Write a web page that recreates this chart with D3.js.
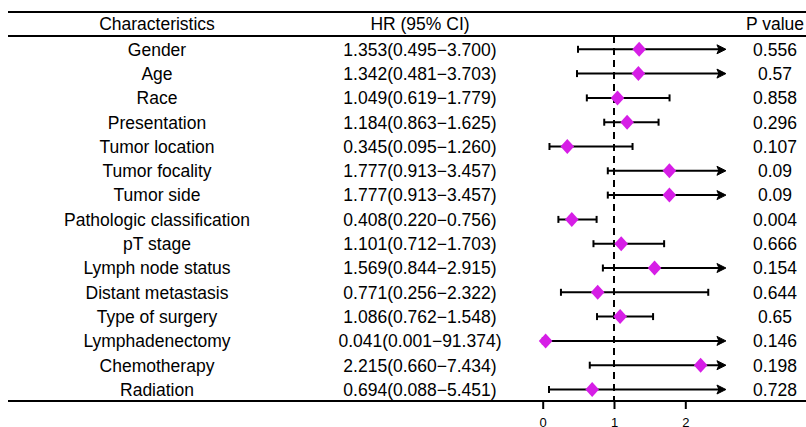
<!DOCTYPE html>
<html lang="en">
<head>
	<meta charset="UTF-8">
	<title>Forest plot</title>
	<script type="text/javascript" src="https://cdn.jsdelivr.net/npm/d3@7"></script>
</head>
<style>
	body { margin: 0; background: #fff; }
	text { font-family: "Liberation Sans", Arial, sans-serif; fill: #000; }
</style>
<body>
	<script type="text/javascript">
		var width = 806;
		var height = 427;

		// data
		var characteristics = ["Gender", "Age", "Race", "Presentation", "Tumor location", "Tumor focality",
			"Tumor side", "Pathologic classification", "pT stage", "Lymph node status", "Distant metastasis",
			"Type of surgery", "Lymphadenectomy", "Chemotherapy", "Radiation"];
		var hr    = [1.353, 1.342, 1.049, 1.184, 0.345, 1.777, 1.777, 0.408, 1.101, 1.569, 0.771, 1.086, 0.041, 2.215, 0.694];
		var lower = [0.495, 0.481, 0.619, 0.863, 0.095, 0.913, 0.913, 0.220, 0.712, 0.844, 0.256, 0.762, 0.001, 0.660, 0.088];
		var upper = [3.700, 3.703, 1.779, 1.625, 1.260, 3.457, 3.457, 0.756, 1.703, 2.915, 2.322, 1.548, 91.374, 7.434, 5.451];
		var pvalues = ["0.556", "0.57", "0.858", "0.296", "0.107", "0.09", "0.09", "0.004", "0.666", "0.154",
			"0.644", "0.65", "0.146", "0.198", "0.728"];
		var xTicks = [0, 1, 2];
		var clipMax = 2.57;

		var rows = characteristics.map(function(c, i){
			return {name: c, hr: hr[i], lo: lower[i], hi: upper[i], p: pvalues[i]};
		});

		var svg = d3.select('body')
					.append('svg')
					.attr('width', width)
					.attr('height', height);

		var x = d3.scaleLinear().domain([0, 2]).range([542.7, 685.3]);
		var y = d3.scaleLinear().domain([0, rows.length - 1]).range([49.3, 389.5]);

		var topY = 12, headY = 36, botY = 401;
		var colName = 157, colHR = 420, colP = 775;
		var fs = 17.5;

		// table rules
		[topY, headY, botY].forEach(function(ly){
			svg.append('line')
			   .attr('x1', 8).attr('x2', width)
			   .attr('y1', ly).attr('y2', ly)
			   .attr('stroke', '#000').attr('stroke-width', 2);
		});

		// header
		var header = [["Characteristics", colName], ["HR (95% CI)", colHR], ["P value", colP]];
		svg.selectAll('text.head')
		   .data(header)
		   .enter()
		   .append('text')
		   .attr('class', 'head')
		   .attr('x', function(d){ return d[1]; })
		   .attr('y', 24)
		   .attr('dy', '0.36em')
		   .attr('text-anchor', 'middle')
		   .style('font-size', fs + 'px')
		   .text(function(d){ return d[0]; });

		// reference line at HR = 1
		svg.append('line')
		   .attr('x1', x(1)).attr('x2', x(1))
		   .attr('y1', headY).attr('y2', botY)
		   .attr('stroke', '#000').attr('stroke-width', 2)
		   .attr('stroke-dasharray', '7,5');

		var g = svg.selectAll('g.row')
				   .data(rows)
				   .enter()
				   .append('g')
				   .attr('class', 'row')
				   .attr('transform', function(d, i){ return 'translate(0,' + y(i) + ')'; });

		g.append('text')
		 .attr('x', colName).attr('dy', '0.36em')
		 .attr('text-anchor', 'middle')
		 .style('font-size', fs + 'px')
		 .text(function(d){ return d.name; });

		g.append('text')
		 .attr('x', colHR).attr('dy', '0.36em')
		 .attr('text-anchor', 'middle')
		 .style('font-size', fs + 'px')
		 .text(function(d){ return d.hr.toFixed(3) + '(' + d.lo.toFixed(3) + '\u2212' + d.hi.toFixed(3) + ')'; });

		g.append('text')
		 .attr('x', colP).attr('dy', '0.36em')
		 .attr('text-anchor', 'middle')
		 .style('font-size', fs + 'px')
		 .text(function(d){ return d.p; });

		// CI lines
		g.append('line')
		 .attr('x1', function(d){ return x(d.lo); })
		 .attr('x2', function(d){ return d.hi > clipMax ? x(clipMax) - 4 : x(d.hi); })
		 .attr('y1', 0).attr('y2', 0)
		 .attr('stroke', '#000').attr('stroke-width', 2);

		// lower caps
		g.append('line')
		 .attr('x1', function(d){ return x(d.lo); })
		 .attr('x2', function(d){ return x(d.lo); })
		 .attr('y1', -3.5).attr('y2', 3.5)
		 .attr('stroke', '#000').attr('stroke-width', 2);

		// upper caps or arrows
		g.filter(function(d){ return d.hi <= clipMax; })
		 .append('line')
		 .attr('x1', function(d){ return x(d.hi); })
		 .attr('x2', function(d){ return x(d.hi); })
		 .attr('y1', -3.5).attr('y2', 3.5)
		 .attr('stroke', '#000').attr('stroke-width', 2);

		g.filter(function(d){ return d.hi > clipMax; })
		 .append('path')
		 .attr('d', function(){
		 	var t = x(clipMax);
		 	return 'M' + t + ',0L' + (t - 9) + ',-4.5L' + (t - 7) + ',0L' + (t - 9) + ',4.5Z';
		 })
		 .attr('fill', '#000').attr('stroke', '#000').attr('stroke-width', 1)
		 .attr('stroke-linejoin', 'round');

		// point estimates
		g.append('path')
		 .attr('d', 'M0,-7.5L6.8,0L0,7.5L-6.8,0Z')
		 .attr('transform', function(d){ return 'translate(' + x(d.hr) + ',0)'; })
		 .attr('fill', '#d61ee6');

		// axis
		var axis = d3.axisBottom(x).tickValues(xTicks).tickSize(8).tickPadding(9)
					 .tickFormat(d3.format('d'));
		var ag = svg.append('g')
					.attr('transform', 'translate(0,' + botY + ')')
					.call(axis);
		ag.select('.domain').remove();
		ag.selectAll('.tick line').attr('stroke', '#000').attr('stroke-width', 2);
		ag.selectAll('.tick text')
		  .style('font-size', '13px')
		  .style('font-family', '"Liberation Sans", Arial, sans-serif')
		  .attr('fill', '#000');
	</script>
</body>
</html>
